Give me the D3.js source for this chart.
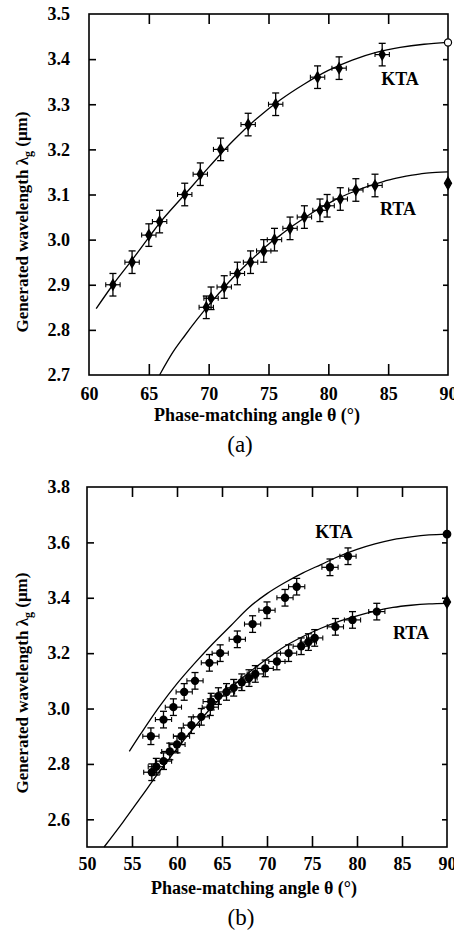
<!DOCTYPE html>
<html>
<head>
<meta charset="utf-8">
<script src="https://cdn.jsdelivr.net/npm/d3@7"></script>
<style>
  html, body { margin: 0; padding: 0; background: #fff; }
  svg { display: block; }
  text { font-family: "Liberation Serif", "Times New Roman", Times, serif; fill: #000; }
</style>
</head>
<body>
<svg id="chart" width="454" height="931"></svg>
<script>
// ---- Panel (a): measured points and fitted curves ----
const aKtaAngle = [62.0, 63.6, 65.0, 65.9, 68.0, 69.3, 71.0, 73.3, 75.6, 79.1, 80.9, 84.5];
const aKtaWave  = [2.90, 2.95, 3.01, 3.04, 3.10, 3.145, 3.20, 3.255, 3.30, 3.36, 3.38, 3.41];
const aKtaEnd   = [90, 3.437];
const aRtaAngle = [69.8, 70.2, 71.3, 72.4, 73.5, 74.6, 75.5, 76.8, 78.0, 79.3, 79.9, 81.0, 82.3, 83.9];
const aRtaWave  = [2.85, 2.87, 2.895, 2.925, 2.95, 2.975, 3.00, 3.025, 3.05, 3.065, 3.075, 3.09, 3.11, 3.12];
const aRtaEnd   = [90, 3.125];

const aKtaFitAngle = [60.6, 62, 63.6, 65, 66, 68, 70, 72, 74, 76, 78, 80, 82, 84, 86, 88, 90];
const aKtaFitWave  = [2.847, 2.90, 2.955, 3.005, 3.04, 3.10, 3.16, 3.218, 3.268, 3.31, 3.345, 3.375, 3.398, 3.415, 3.426, 3.433, 3.437];
const aRtaFitAngle = [65.9, 67, 68, 69, 70, 71, 72, 73, 74, 75, 76, 77, 78, 79, 80, 81, 82, 83, 84, 85, 86, 87, 88, 89, 90];
const aRtaFitWave  = [2.70, 2.75, 2.787, 2.822, 2.855, 2.885, 2.915, 2.941, 2.966, 2.99, 3.01, 3.03, 3.048, 3.065, 3.08, 3.094, 3.105, 3.115, 3.124, 3.132, 3.138, 3.143, 3.147, 3.149, 3.150];

// ---- Panel (b) ----
const bKtaAngle = [57.1, 58.5, 59.6, 60.8, 62.0, 63.6, 64.8, 66.7, 68.4, 70.0, 72.0, 73.3, 77.0, 79.0];
const bKtaWave  = [2.90, 2.96, 3.005, 3.06, 3.10, 3.165, 3.20, 3.25, 3.305, 3.355, 3.40, 3.44, 3.51, 3.55];
const bKtaEnd   = [90, 3.63];
const bRtaAngle = [57.2, 57.7, 58.5, 59.2, 60.0, 60.5, 61.6, 62.7, 63.7, 63.8, 64.6, 65.5, 66.3, 67.2, 68.0, 68.7, 69.8, 71.1, 72.4, 73.8, 74.6, 75.3, 77.6, 79.5, 82.2];
const bRtaWave  = [2.77, 2.79, 2.81, 2.845, 2.87, 2.90, 2.94, 2.97, 3.005, 3.025, 3.045, 3.06, 3.075, 3.095, 3.11, 3.125, 3.145, 3.17, 3.20, 3.225, 3.24, 3.255, 3.295, 3.32, 3.35];
const bRtaEnd   = [90, 3.385];

const bKtaFitAngle = [54.7, 56, 58, 60, 62, 64, 66, 68, 70, 72, 74, 76, 78, 80, 82, 84, 86, 88, 90];
const bKtaFitWave  = [2.845, 2.91, 3.005, 3.09, 3.165, 3.235, 3.30, 3.365, 3.415, 3.455, 3.49, 3.52, 3.55, 3.575, 3.595, 3.61, 3.62, 3.627, 3.63];
const bRtaFitAngle = [51.9, 54, 56, 58, 60, 62, 64, 66, 68, 70, 72, 74, 76, 78, 80, 82, 84, 86, 88, 90];
const bRtaFitWave  = [2.50, 2.59, 2.68, 2.77, 2.855, 2.935, 3.01, 3.075, 3.13, 3.18, 3.225, 3.26, 3.29, 3.315, 3.335, 3.352, 3.365, 3.373, 3.378, 3.38];

// ---- Axis tick labels ----
const aXTicks = [60, 65, 70, 75, 80, 85, 90];
const aYTicks = [2.7, 2.8, 2.9, 3.0, 3.1, 3.2, 3.3, 3.4, 3.5];
const bXTicks = [50, 55, 60, 65, 70, 75, 80, 85, 90];
const bYTicks = [2.6, 2.8, 3.0, 3.2, 3.4, 3.6, 3.8];

const xTitle = "Phase-matching angle \u03b8 (\u00b0)";

const svg = d3.select("#chart");

function zip(a, b) { return a.map((v, i) => [v, b[i]]); }

function drawPanel(cfg) {
  const g = svg.append("g");
  const x = d3.scaleLinear().domain(cfg.xDomain).range([cfg.left, cfg.right]);
  const y = d3.scaleLinear().domain(cfg.yDomain).range([cfg.bottom, cfg.top]);

  const inner = cfg.xTicks.slice(1, -1);
  const yInner = cfg.yTicks.filter(v => v > cfg.yDomain[0] + 1e-9 && v < cfg.yDomain[1] - 1e-9);

  // bottom axis with labels, ticks pointing inward
  const bx = g.append("g").attr("transform", `translate(0,${cfg.bottom})`)
    .call(d3.axisBottom(x).tickValues(cfg.xTicks).tickSize(-11).tickPadding(cfg.xPad).tickFormat(d3.format("d")));
  bx.select(".domain").remove();
  bx.selectAll(".tick line").filter(d => d === cfg.xTicks[0] || d === cfg.xTicks[cfg.xTicks.length - 1]).remove();

  // top ticks
  const tx = g.append("g").attr("transform", `translate(0,${cfg.top})`)
    .call(d3.axisTop(x).tickValues(inner).tickSize(-10).tickFormat(""));
  tx.select(".domain").remove();

  // left axis with labels
  const ly = g.append("g").attr("transform", `translate(${cfg.left},0)`)
    .call(d3.axisLeft(y).tickValues(cfg.yTicks).tickSize(-7).tickPadding(cfg.yPad).tickFormat(d3.format(".1f")));
  ly.select(".domain").remove();
  ly.selectAll(".tick line").filter(d => !(yInner.includes(d))).remove();

  // right ticks
  const ry = g.append("g").attr("transform", `translate(${cfg.right},0)`)
    .call(d3.axisRight(y).tickValues(yInner).tickSize(-5).tickFormat(""));
  ry.select(".domain").remove();

  g.selectAll(".tick line").attr("stroke", "#000").attr("stroke-width", 1.6);
  g.selectAll(".tick text").attr("font-size", 18).attr("font-weight", "bold")
    .style("font-family", "'Liberation Serif', serif");

  // frame
  g.append("rect").attr("x", cfg.left).attr("y", cfg.top)
    .attr("width", cfg.right - cfg.left).attr("height", cfg.bottom - cfg.top)
    .attr("fill", "none").attr("stroke", "#000").attr("stroke-width", 1.6);

  // fitted curves
  const line = d3.line().x(d => x(d[0])).y(d => y(d[1])).curve(d3.curveCatmullRom);
  cfg.fits.forEach(f => {
    g.append("path").datum(zip(f[0], f[1])).attr("d", line)
      .attr("fill", "none").attr("stroke", "#000").attr("stroke-width", 1.3);
  });

  // measured points with error bars
  cfg.series.forEach(s => {
    const pts = zip(s[0], s[1]);
    const pg = g.append("g").selectAll("g").data(pts).join("g");
    pg.append("line").attr("x1", d => x(d[0])).attr("x2", d => x(d[0]))
      .attr("y1", d => y(d[1] - cfg.errY)).attr("y2", d => y(d[1] + cfg.errY))
      .attr("stroke", "#000").attr("stroke-width", 1.3);
    [-1, 1].forEach(k => {
      pg.append("line").attr("x1", d => x(d[0]) - 3.5).attr("x2", d => x(d[0]) + 3.5)
        .attr("y1", d => y(d[1] + k * cfg.errY)).attr("y2", d => y(d[1] + k * cfg.errY))
        .attr("stroke", "#000").attr("stroke-width", 1.3);
      pg.append("line").attr("y1", d => y(d[1]) - 2.5).attr("y2", d => y(d[1]) + 2.5)
        .attr("x1", d => x(d[0] + k * cfg.errX)).attr("x2", d => x(d[0] + k * cfg.errX))
        .attr("stroke", "#000").attr("stroke-width", 1.1);
    });
    pg.append("line").attr("y1", d => y(d[1])).attr("y2", d => y(d[1]))
      .attr("x1", d => x(d[0] - cfg.errX)).attr("x2", d => x(d[0] + cfg.errX))
      .attr("stroke", "#000").attr("stroke-width", 1.2);
    pg.append("path").attr("transform", d => `translate(${x(d[0])},${y(d[1])})`)
      .attr("d", d3.symbol().type(cfg.symbol).size(cfg.symbolSize)).attr("fill", "#000");
  });

  // end points at 90°
  cfg.ends.forEach(e => {
    g.append("path").attr("transform", `translate(${x(e.p[0])},${y(e.p[1])})`)
      .attr("d", d3.symbol().type(e.type).size(e.size))
      .attr("fill", e.open ? "#fff" : "#000").attr("stroke", "#000").attr("stroke-width", 1.2);
  });

  // curve labels
  cfg.labels.forEach(l => {
    g.append("text").attr("x", l.x).attr("y", l.y).attr("text-anchor", "middle")
      .attr("font-size", 18).attr("font-weight", "bold").text(l.t);
  });

  // axis titles
  g.append("text").attr("x", cfg.xTitleX).attr("y", cfg.xTitleY).attr("text-anchor", "middle")
    .attr("font-size", 18).attr("font-weight", "bold").text(xTitle);

  const yt = g.append("text").attr("transform", `translate(${cfg.yTitleX},${cfg.yTitleY}) rotate(-90)`)
    .attr("text-anchor", "middle").attr("font-size", 17).attr("font-weight", "bold");
  yt.append("tspan").text("Generated wavelength \u03bb");
  yt.append("tspan").attr("dy", "0.3em").attr("font-size", 12).text("g");
  yt.append("tspan").attr("dy", "-0.3em").text(" (\u03bcm)");

  g.append("text").attr("x", cfg.tagX).attr("y", cfg.tagY).attr("text-anchor", "middle")
    .attr("font-size", 23).text(cfg.tag);
}

drawPanel({
  xDomain: [60, 90], yDomain: [2.7, 3.5],
  left: 89, right: 448, top: 14, bottom: 375,
  xTicks: aXTicks, yTicks: aYTicks, xPad: 12, yPad: 19,
  errX: 0.6, errY: 0.025, symbol: d3.symbolDiamond, symbolSize: 50,
  fits: [[aKtaFitAngle, aKtaFitWave], [aRtaFitAngle, aRtaFitWave]],
  series: [[aKtaAngle, aKtaWave], [aRtaAngle, aRtaWave]],
  ends: [{ p: aKtaEnd, type: d3.symbolCircle, size: 40, open: true },
         { p: aRtaEnd, type: d3.symbolDiamond, size: 45, open: false }],
  labels: [{ x: 400, y: 85, t: "KTA" }, { x: 398, y: 215, t: "RTA" }],
  xTitleX: 257, xTitleY: 421, yTitleX: 28, yTitleY: 222,
  tag: "(a)", tagX: 240, tagY: 452
});

drawPanel({
  xDomain: [50, 90], yDomain: [2.5, 3.8],
  left: 87, right: 447, top: 487, bottom: 847,
  xTicks: bXTicks, yTicks: bYTicks, xPad: 10, yPad: 17,
  errX: 0.9, errY: 0.03, symbol: d3.symbolCircle, symbolSize: 55,
  fits: [[bKtaFitAngle, bKtaFitWave], [bRtaFitAngle, bRtaFitWave]],
  series: [[bKtaAngle, bKtaWave], [bRtaAngle, bRtaWave]],
  ends: [{ p: bKtaEnd, type: d3.symbolCircle, size: 45, open: false },
         { p: bRtaEnd, type: d3.symbolDiamond, size: 45, open: false }],
  labels: [{ x: 334, y: 538, t: "KTA" }, { x: 411, y: 639, t: "RTA" }],
  xTitleX: 254, xTitleY: 894, yTitleX: 28, yTitleY: 683,
  tag: "(b)", tagX: 241, tagY: 925
});
</script>
</body>
</html>
